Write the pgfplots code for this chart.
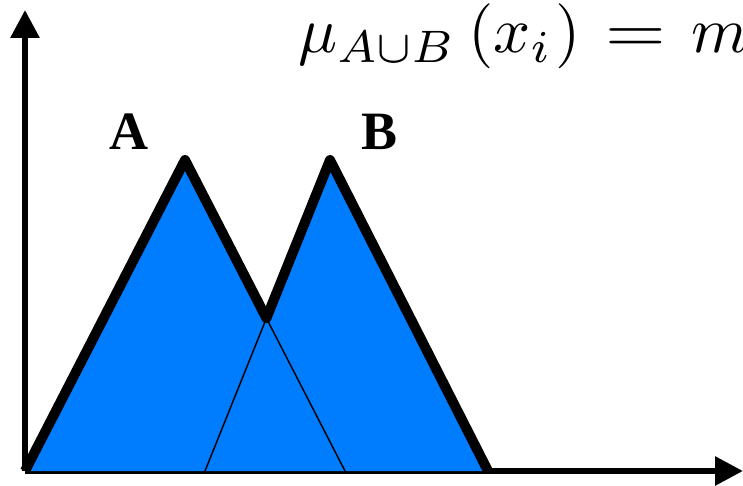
\documentclass[border=0pt]{standalone}
\usepackage{graphicx}
\usepackage{pgfplots}
\pgfplotsset{compat=1.18}
\usepackage{fontspec}
\newfontfamily\timesfont{Liberation Serif}
\usetikzlibrary{arrows.meta}
\definecolor{fillblue}{RGB}{0,125,255}
\begin{document}
\begin{tikzpicture}
\begin{axis}[x=1pt,y=1pt,xmin=0,xmax=718,ymin=0,ymax=461,
  axis lines=left, ticks=none, clip=false,
  axis line style={line width=6pt,-{Triangle[length=28pt,width=28pt]}}]
\addplot[fill=fillblue,draw=none] coordinates {(0,0)(160,311)(241.4,152.8)(305,311)(463,0)} -- cycle;
\addplot[black,line width=1.5pt] coordinates {(160,311)(320,0)};
\addplot[black,line width=1.5pt] coordinates {(180,0)(305,311)};
\addplot[black,line width=10pt,line join=round] coordinates {(0,0)(160,311)(241.4,152.8)(305,311)(463,0)};
\node[anchor=base west,inner sep=0pt] at (axis cs:273,418) {\scalebox{6.5}{$\mu_{A\cup B}$}};
\node[anchor=base west,inner sep=0pt] at (axis cs:443,418) {\scalebox{6.5}{$(x_i\mkern1mu)$}};
\node[anchor=base west,inner sep=0pt] at (axis cs:580,418) {\scalebox{7.8}[6.5]{$=$}};
\node[anchor=base west,inner sep=0pt] at (axis cs:666,418) {\scalebox{6.5}{$max(\mu_A(x_i),\mu_B(x_i))$}};
\node[inner sep=0pt,font=\timesfont\bfseries\fontsize{54}{60}\selectfont] at (axis cs:104,339) {A};
\node[inner sep=0pt,font=\timesfont\bfseries\fontsize{54}{60}\selectfont] at (axis cs:355,339) {B};
\coordinate (bl) at (axis cs:-25,-14);
\coordinate (tr) at (axis cs:718,471);
\end{axis}
\pgfresetboundingbox
\path[use as bounding box] (bl) rectangle (tr);
\end{tikzpicture}
\end{document}
